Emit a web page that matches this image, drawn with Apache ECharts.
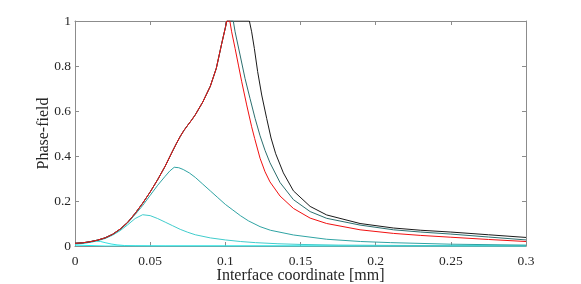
<!DOCTYPE html>
<html>
<head>
<meta charset="utf-8">
<script src="https://cdn.jsdelivr.net/npm/echarts@6/dist/echarts.min.js"></script>
<style>html,body{margin:0;padding:0;background:#fff}#c{width:581px;height:284px}</style>
</head>
<body>
<div id="c"></div>
<script>
// Tick labels
const xTicks = ['0', '0.05', '0.1', '0.15', '0.2', '0.25', '0.3'];
const yTicks = ['0', '0.2', '0.4', '0.6', '0.8', '1'];

// Shared rising branch (red, dark teal and black overlap here)
const riseX = [0, 0.005, 0.01, 0.015, 0.02, 0.025, 0.03, 0.035, 0.04, 0.045, 0.05, 0.055, 0.06, 0.065, 0.0675, 0.07, 0.0725, 0.075, 0.0775, 0.08, 0.085, 0.09, 0.094, 0.0976, 0.1, 0.101];
const riseY = [0.012, 0.014, 0.019, 0.026, 0.036, 0.052, 0.075, 0.105, 0.145, 0.19, 0.24, 0.295, 0.355, 0.423, 0.456, 0.487, 0.514, 0.537, 0.559, 0.583, 0.64, 0.71, 0.79, 0.9, 0.97, 1];

// Falling branches
const redFallX = [0.103, 0.1042, 0.1065, 0.1087, 0.1109, 0.1142, 0.1175, 0.1195, 0.1231, 0.1264, 0.1297, 0.1364, 0.1453, 0.1564, 0.1674, 0.1896, 0.2118, 0.23, 0.25, 0.275, 0.3];
const redFallY = [1, 0.952, 0.878, 0.804, 0.73, 0.627, 0.53, 0.478, 0.39, 0.33, 0.285, 0.222, 0.167, 0.124, 0.1, 0.072, 0.056, 0.047, 0.039, 0.029, 0.02];

const tealFallX = [0.1053, 0.1065, 0.1098, 0.1131, 0.1164, 0.1198, 0.1231, 0.1264, 0.1297, 0.1364, 0.1453, 0.1564, 0.1674, 0.1896, 0.2118, 0.23, 0.25, 0.275, 0.3];
const tealFallY = [1, 0.952, 0.849, 0.745, 0.656, 0.567, 0.49, 0.425, 0.37, 0.282, 0.206, 0.153, 0.123, 0.093, 0.072, 0.062, 0.053, 0.04, 0.027];

const blackFallX = [0.116, 0.1175, 0.1193, 0.1215, 0.1242, 0.1275, 0.1304, 0.1335, 0.1386, 0.1453, 0.1564, 0.1674, 0.1896, 0.2118, 0.23, 0.25, 0.275, 0.3];
const blackFallY = [1, 0.952, 0.878, 0.775, 0.671, 0.567, 0.48, 0.41, 0.325, 0.245, 0.176, 0.138, 0.1, 0.08, 0.07, 0.062, 0.05, 0.038];

// Medium teal (peak ~0.35)
const midX = [0, 0.005, 0.01, 0.015, 0.02, 0.025, 0.03, 0.035, 0.04, 0.045, 0.05, 0.055, 0.06, 0.063, 0.066, 0.069, 0.072, 0.076, 0.08, 0.085, 0.09, 0.095, 0.1, 0.105, 0.11, 0.1153, 0.1231, 0.13, 0.1453, 0.1674, 0.19, 0.21, 0.25, 0.3];
const midY = [0.012, 0.014, 0.019, 0.026, 0.036, 0.051, 0.073, 0.102, 0.14, 0.18, 0.225, 0.27, 0.31, 0.333, 0.35, 0.348, 0.34, 0.325, 0.305, 0.275, 0.245, 0.215, 0.185, 0.16, 0.135, 0.112, 0.086, 0.07, 0.049, 0.03, 0.02, 0.015, 0.008, 0.004];

// Light teal (peak ~0.14)
const lightX = [0, 0.005, 0.01, 0.015, 0.02, 0.025, 0.03, 0.035, 0.04, 0.045, 0.05, 0.055, 0.06, 0.065, 0.07, 0.075, 0.08, 0.09, 0.1, 0.11, 0.12, 0.135, 0.15, 0.175, 0.2, 0.25, 0.3];
const lightY = [0.01, 0.012, 0.016, 0.023, 0.033, 0.048, 0.068, 0.094, 0.122, 0.139, 0.135, 0.122, 0.106, 0.09, 0.074, 0.061, 0.05, 0.036, 0.027, 0.02, 0.015, 0.01, 0.007, 0.004, 0.003, 0.0015, 0.001];

// Cyan small bump
const cyanX = [0, 0.005, 0.01, 0.014, 0.017, 0.02, 0.024, 0.028, 0.033, 0.04, 0.06, 0.3];
const cyanY = [0.008, 0.011, 0.017, 0.022, 0.02, 0.015, 0.009, 0.005, 0.002, 0.001, 0, 0];

// Flat cyan at zero
const flatX = [0, 0.01, 0.02, 0.3];
const flatY = [0.004, 0.002, 0, 0];

function pairs(xs, ys) { return xs.map((x, i) => [x, ys[i]]); }

const redData = pairs(riseX.concat(redFallX), riseY.concat(redFallY));
const tealData = pairs(riseX.concat(tealFallX), riseY.concat(tealFallY));
const blackData = pairs(riseX.concat(blackFallX), riseY.concat(blackFallY));

const font = 'Liberation Serif';
const axisCol = '#8c8c8c';
const txtCol = '#262626';

function line(name, data, color, z) {
  return { name, type: 'line', data, showSymbol: false, symbol: 'none', z: z,
    lineStyle: { color, width: 1 }, animation: false, clip: true };
}

const chart = echarts.init(document.getElementById('c'), null, { renderer: 'canvas' });
chart.setOption({
  animation: false,
  backgroundColor: '#fff',
  grid: { left: 75, right: 55, top: 21, bottom: 38, containLabel: false, outerBoundsMode: 'none' },
  xAxis: [{
    type: 'value', min: 0, max: 0.3, interval: 0.05, position: 'bottom',
    name: 'Interface coordinate [mm]', nameLocation: 'middle', nameGap: 22, nameMoveOverlap: false,
    nameTextStyle: { fontFamily: font, fontSize: 16, color: txtCol },
    axisLine: { show: true, lineStyle: { color: axisCol, width: 1 } },
    axisTick: { show: true, inside: true, length: 4, lineStyle: { color: axisCol } },
    axisLabel: { fontFamily: font, fontSize: 13.5, color: txtCol, margin: 8,
      formatter: (v) => xTicks[Math.round(v / 0.05)] },
    splitLine: { show: false }
  }, {
    type: 'value', min: 0, max: 0.3, interval: 0.05, position: 'top',
    axisLine: { show: true, onZero: false, lineStyle: { color: axisCol, width: 1 } },
    axisTick: { show: true, inside: true, length: 4, lineStyle: { color: axisCol } },
    axisLabel: { show: false }, splitLine: { show: false }
  }],
  yAxis: [{
    type: 'value', min: 0, max: 1, interval: 0.2, position: 'left',
    name: 'Phase-field', nameLocation: 'middle', nameGap: 23, nameMoveOverlap: false,
    nameTextStyle: { fontFamily: font, fontSize: 16, color: txtCol },
    axisLine: { show: true, lineStyle: { color: axisCol, width: 1 } },
    axisTick: { show: true, inside: true, length: 4, lineStyle: { color: axisCol } },
    axisLabel: { fontFamily: font, fontSize: 13.5, color: txtCol, margin: 4,
      formatter: (v) => yTicks[Math.round(v / 0.2)] },
    splitLine: { show: false }
  }, {
    type: 'value', min: 0, max: 1, interval: 0.2, position: 'right',
    axisLine: { show: true, onZero: false, lineStyle: { color: axisCol, width: 1 } },
    axisTick: { show: true, inside: true, length: 4, lineStyle: { color: axisCol } },
    axisLabel: { show: false }, splitLine: { show: false }
  }],
  series: [
    line('flat', pairs(flatX, flatY), '#19f0f0', 2),
    line('cyan', pairs(cyanX, cyanY), '#33e0e0', 3),
    line('light', pairs(lightX, lightY), '#40cccc', 4),
    line('mid', pairs(midX, midY), '#2fa3a3', 5),
    line('black', blackData, '#1a1a1a', 6),
    line('darkteal', tealData, '#2c6e6e', 7),
    line('red', redData, '#f01010', 8)
  ]
});
</script>
</body>
</html>
